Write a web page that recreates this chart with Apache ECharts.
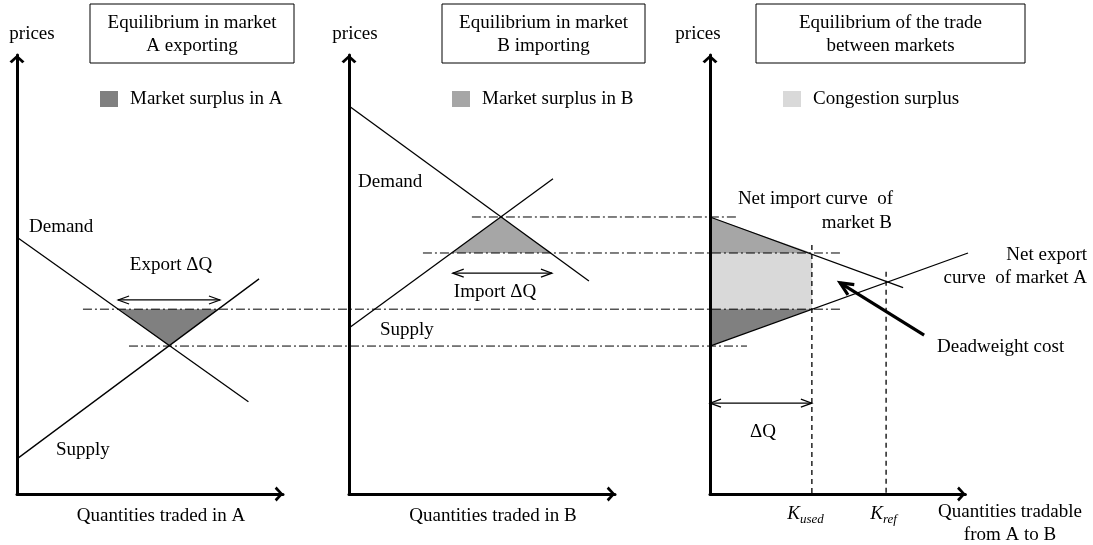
<!DOCTYPE html>
<html>
<head>
<meta charset="utf-8">
<script src="https://cdn.jsdelivr.net/npm/echarts@6/dist/echarts.min.js"></script>
<style>
  html, body { margin: 0; padding: 0; background: #fff; }
  #chart { width: 1093px; height: 545px; }
</style>
</head>
<body>
<div id="chart"></div>
<script>
// ---- data (quantity, price) ----
var demandA = [[0, 58.5], [87, 21]];
var supplyA = [[0, 8], [91, 49]];
var surplusA = [[38.5, 42.1], [75.8, 42.1], [57, 33.7]];
var exportArrow = [[38, 44.2], [76.3, 44.2]];

var demandB = [[0, 88.4], [90.2, 48.5]];
var supplyB = [[0, 37.8], [76.7, 71.8]];
var surplusB = [[57, 63.1], [38.5, 54.9], [76.3, 54.9]];
var importArrow = [[39, 50.3], [76.3, 50.3]];

var netImport = [[0, 63.1], [72.6, 47]];
var netExport = [[0, 33.7], [97, 54.9]];
var congTop = [[0, 63.1], [38.3, 54.9], [0, 54.9]];
var congRect = [[0, 54.9], [38.3, 54.9], [38.3, 42.1], [0, 42.1]];
var congBottom = [[0, 42.1], [38.3, 42.1], [0, 33.7]];
var kUsed = [[38.3, 56.7], [38.3, 0]];
var kRef = [[66.2, 50.6], [66.2, 0]];
var dqArrow = [[0, 20.7], [38.3, 20.7]];
var deadweightArrow = [[80.5, 36.2], [48.9, 48.1]];

// price levels carried across panels: [price, start panel, start q, end q in panel C]
var levels = [
  [42.1, 0, 24.8, 48.9],
  [33.7, 0, 42.1, 13.9],
  [63.1, 1, 46.2, 10.5],
  [54.9, 1, 27.8, 48.9]
];

// ---- layout ----
var PXQ = 2.66;
var GRID_LEFT = [17, 349, 710];
var Q_MAX = [100, 100, 96];
var TOP = 55, HEIGHT = 439, P_MAX = 100;
var FONT = 'Liberation Serif';
var FS = 19;
var C_A = '#808080', C_B = '#a6a6a6', C_CONG = '#d9d9d9';
var CHEVRON = 'path://M0,9L10,0L20,9L17,11.5L10,4.6L3,11.5Z';

var chart = echarts.init(document.getElementById('chart'));

var grids = [], xAxes = [], yAxes = [];
GRID_LEFT.forEach(function (left, i) {
  grids.push({ left: left, top: TOP, width: Q_MAX[i] * PXQ, height: HEIGHT });
  var axisLine = {
    lineStyle: { color: '#000', width: 3 },
    symbol: ['none', CHEVRON],
    symbolSize: [15, 10],
    symbolOffset: [0, -4]
  };
  xAxes.push({ type: 'value', gridIndex: i, min: 0, max: Q_MAX[i], z: 5,
    axisLine: axisLine, axisTick: { show: false }, axisLabel: { show: false }, splitLine: { show: false } });
  yAxes.push({ type: 'value', gridIndex: i, min: 0, max: P_MAX, z: 5,
    axisLine: axisLine, axisTick: { show: false }, axisLabel: { show: false }, splitLine: { show: false } });
});

// straight segment drawn through the grid's scales (may run past the axis end)
function seg(g, data, dash, width) {
  return { type: 'custom', xAxisIndex: g, yAxisIndex: g, data: data, clip: false, silent: true, z: 3,
    renderItem: function (params, api) {
      if (params.dataIndex !== 0) return null;
      return { type: 'polyline', shape: { points: data.map(function (p) { return api.coord(p); }) },
        style: { stroke: '#000', lineWidth: width || 1.3, lineDash: dash || null, fill: null } };
    } };
}

function poly(g, data, color) {
  return { type: 'custom', xAxisIndex: g, yAxisIndex: g, data: data, clip: false, silent: true, z: 1,
    renderItem: function (params, api) {
      if (params.dataIndex !== 0) return null;
      return { type: 'polygon', shape: { points: data.map(function (p) { return api.coord(p); }) },
        style: { fill: color, stroke: null } };
    } };
}

function arrow(g, data, both, width, headL, headW) {
  return { type: 'custom', xAxisIndex: g, yAxisIndex: g, data: data, clip: false, silent: true, z: 4,
    renderItem: function (params, api) {
      if (params.dataIndex !== 0) return null;
      var a = api.coord(data[0]), b = api.coord(data[1]);
      function head(tip, from) {
        var dx = tip[0] - from[0], dy = tip[1] - from[1];
        var len = Math.sqrt(dx * dx + dy * dy), ux = dx / len, uy = dy / len;
        return { type: 'polyline', shape: { points: [
          [tip[0] - ux * headL - uy * headW, tip[1] - uy * headL + ux * headW],
          tip,
          [tip[0] - ux * headL + uy * headW, tip[1] - uy * headL - ux * headW]] },
          style: { stroke: '#000', lineWidth: width, fill: null } };
      }
      var kids = [{ type: 'line', shape: { x1: a[0], y1: a[1], x2: b[0], y2: b[1] },
        style: { stroke: '#000', lineWidth: width } }, head(b, a)];
      if (both) kids.push(head(a, b));
      return { type: 'group', children: kids };
    } };
}

var DASHDOT = [9, 3, 2, 3];
var series = [];
levels.forEach(function (l) {
  var off = (GRID_LEFT[2] - GRID_LEFT[l[1]]) / PXQ;
  series.push(seg(l[1], [[l[2], l[0]], [l[3] + off, l[0]]], DASHDOT, 1));
});
series.push(
  poly(0, surplusA, C_A),
  seg(0, demandA), seg(0, supplyA),
  arrow(0, exportArrow, true, 1.2, 11, 4),
  poly(1, surplusB, C_B),
  seg(1, demandB), seg(1, supplyB),
  arrow(1, importArrow, true, 1.2, 11, 4),
  poly(2, congTop, C_B), poly(2, congRect, C_CONG), poly(2, congBottom, C_A),
  seg(2, netImport), seg(2, netExport),
  seg(2, kUsed, [5, 4]), seg(2, kRef, [5, 4]),
  arrow(2, dqArrow, true, 1.2, 11, 4),
  arrow(2, deadweightArrow, false, 3.2, 13, 6)
);

function txt(x, y, s, align, extra) {
  return { type: 'text', x: x, y: y, silent: true, z: 10,
    style: Object.assign({ text: s, fontFamily: FONT, fontSize: FS, fill: '#000',
      textAlign: align || 'center', textVerticalAlign: 'middle' }, extra || {}) };
}
function box(x, w, l1, l2) {
  return [
    { type: 'rect', shape: { x: x, y: 4, width: w, height: 59 }, z: 9, silent: true,
      style: { fill: '#fff', stroke: '#000', lineWidth: 1 } },
    txt(x + w / 2, 23, l1), txt(x + w / 2, 46, l2)
  ];
}
function key(x, color, label) {
  return [
    { type: 'rect', shape: { x: x, y: 91, width: 18, height: 16 }, z: 9, silent: true, style: { fill: color } },
    txt(x + 30, 99, label, 'left')
  ];
}

var graphics = [].concat(
  box(90, 204, 'Equilibrium in market', 'A exporting'),
  box(442, 203, 'Equilibrium in market', 'B importing'),
  box(756, 269, 'Equilibrium of the trade', 'between markets'),
  key(100, C_A, 'Market surplus in A'),
  key(452, C_B, 'Market surplus in B'),
  key(783, C_CONG, 'Congestion surplus'),
  [
    txt(32, 34, 'prices'), txt(355, 34, 'prices'), txt(698, 34, 'prices'),
    txt(29, 227, 'Demand', 'left'), txt(56, 450, 'Supply', 'left'),
    txt(171, 265, 'Export \u0394Q'),
    txt(161, 516, 'Quantities traded in A'),
    txt(358, 182, 'Demand', 'left'), txt(380, 330, 'Supply', 'left'),
    txt(495, 292, 'Import \u0394Q'),
    txt(493, 516, 'Quantities traded in B'),
    txt(893, 199, 'Net import curve  of', 'right'), txt(892, 223, 'market B', 'right'),
    txt(1087, 255, 'Net export', 'right'), txt(1087, 278, 'curve  of market A', 'right'),
    txt(937, 347, 'Deadweight cost', 'left'),
    txt(763, 432, '\u0394Q'),
    txt(800, 514, 'K', 'right', { fontStyle: 'italic' }), txt(800, 520, 'used', 'left', { fontStyle: 'italic', fontSize: 13 }),
    txt(883, 514, 'K', 'right', { fontStyle: 'italic' }), txt(883, 520, 'ref', 'left', { fontStyle: 'italic', fontSize: 13 }),
    txt(1010, 512, 'Quantities tradable'), txt(1010, 535, 'from A to B')
  ]
);

chart.setOption({
  animation: false,
  backgroundColor: '#fff',
  grid: grids,
  xAxis: xAxes,
  yAxis: yAxes,
  series: series,
  graphic: graphics
});
</script>
</body>
</html>
